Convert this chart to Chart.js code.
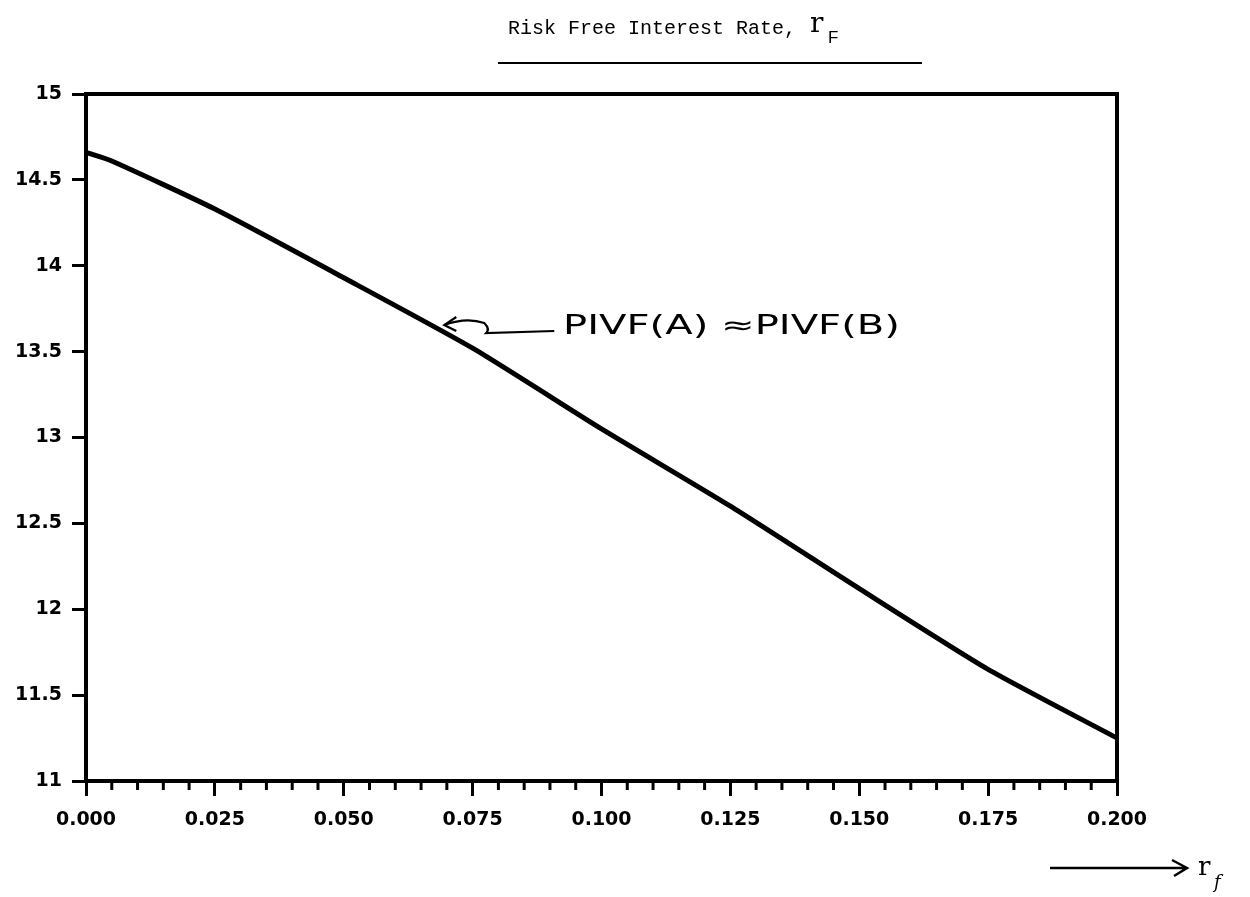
<!DOCTYPE html>
<html>
<head>
<meta charset="utf-8">
<script src="https://cdn.jsdelivr.net/npm/chart.js@4"></script>
<style>
  html, body { margin: 0; padding: 0; background: #fff; }
  #grafico { display: block; }
</style>
</head>
<body>
<canvas id="grafico" width="1250" height="897"></canvas>
<script>
// valores
const taxas = [0, 0.005, 0.025, 0.05, 0.075, 0.1, 0.125, 0.15, 0.175, 0.2];
const valores = [14.66, 14.61, 14.33, 13.93, 13.52, 13.05, 12.6, 12.12, 11.65, 11.25];
const rotulosX = ['0.000', '0.025', '0.050', '0.075', '0.100', '0.125', '0.150', '0.175', '0.200'];
const rotulosY = ['11', '11.5', '12', '12.5', '13', '13.5', '14', '14.5', '15'];
const titulo = 'Risk Free Interest Rate, ';
const anotacao = 'PIVF(A) \u2248PIVF(B)';

const ehMaior = v => Math.abs(v / 0.025 - Math.round(v / 0.025)) < 1e-6;

// moldura, ticks menores, titulo e anotacoes
const extras = {
    id: 'extras',
    afterDraw(chart) {
        const ctx = chart.ctx;
        const area = chart.chartArea;
        const sx = chart.scales.x;
        const sy = chart.scales.y;
        ctx.save();
        ctx.strokeStyle = '#000';
        ctx.fillStyle = '#000';

        ctx.lineWidth = 4;
        ctx.strokeRect(area.left, area.top, area.right - area.left, area.bottom - area.top);

        // ticks menores
        ctx.lineWidth = 3;
        for (const t of sx.ticks) {
            if (ehMaior(t.value)) continue;
            const px = sx.getPixelForValue(t.value);
            ctx.beginPath();
            ctx.moveTo(px, area.bottom);
            ctx.lineTo(px, area.bottom + 9);
            ctx.stroke();
        }

        // titulo
        ctx.font = '20px "Liberation Mono"';
        ctx.textBaseline = 'alphabetic';
        ctx.textAlign = 'left';
        ctx.fillText(titulo, 508, 34);
        const wt = ctx.measureText(titulo).width;
        ctx.font = '28px "DejaVu Serif"';
        ctx.fillText('r', 508 + wt + 2, 32);
        ctx.font = '17px "Liberation Sans"';
        ctx.fillText('F', 508 + wt + 20, 43);
        ctx.lineWidth = 2;
        ctx.beginPath();
        ctx.moveTo(498, 63);
        ctx.lineTo(922, 63);
        ctx.stroke();

        // anotacao da curva
        const ax = sx.getPixelForValue(0.0695);
        const ay = sy.getPixelForValue(13.655);
        ctx.lineWidth = 2.2;
        ctx.beginPath();
        ctx.moveTo(ax, ay);
        ctx.quadraticCurveTo(ax + 22, ay - 8, ax + 40, ay - 2);
        ctx.quadraticCurveTo(ax + 46, ay + 4, ax + 42, ay + 8);
        ctx.lineTo(ax + 110, ay + 6);
        ctx.stroke();
        ctx.beginPath();
        ctx.moveTo(ax + 12, ay - 8);
        ctx.lineTo(ax, ay);
        ctx.lineTo(ax + 12, ay + 6);
        ctx.stroke();
        ctx.font = '26px "DejaVu Sans"';
        ctx.textBaseline = 'middle';
        const wa = ctx.measureText(anotacao).width;
        ctx.save();
        ctx.translate(563, ay + 2);
        ctx.scale(337 / wa, 1);
        ctx.fillText(anotacao, 0, 0);
        ctx.restore();

        // seta do eixo x
        ctx.lineWidth = 2.5;
        ctx.beginPath();
        ctx.moveTo(1050, 868);
        ctx.lineTo(1187, 868);
        ctx.moveTo(1172, 860);
        ctx.lineTo(1187, 868);
        ctx.lineTo(1174, 876);
        ctx.stroke();
        ctx.textBaseline = 'alphabetic';
        ctx.font = '26px "DejaVu Serif"';
        ctx.fillText('r', 1198, 875);
        ctx.font = 'italic 18px "DejaVu Serif"';
        ctx.fillText('f', 1214, 888);
        ctx.restore();
    }
};

new Chart(document.getElementById('grafico'), {
    type: 'line',
    data: {
        datasets: [{
            data: taxas.map((t, i) => ({ x: t, y: valores[i] })),
            borderColor: '#000',
            borderWidth: 5,
            pointRadius: 0,
            tension: 0.2,
            fill: false
        }]
    },
    options: {
        responsive: false,
        devicePixelRatio: 1,
        animation: false,
        layout: { padding: { left: 0, right: 133, top: 94, bottom: 0 } },
        plugins: { legend: { display: false }, tooltip: { enabled: false } },
        scales: {
            x: {
                type: 'linear',
                min: 0,
                max: 0.2,
                afterFit: s => { s.height = 116; },
                border: { display: true, color: '#000', width: 4 },
                grid: {
                    drawOnChartArea: false,
                    tickLength: 15,
                    tickWidth: 3,
                    tickColor: c => (c.tick && ehMaior(c.tick.value)) ? '#000' : 'rgba(0,0,0,0)'
                },
                ticks: {
                    stepSize: 0.005,
                    autoSkip: false,
                    maxRotation: 0,
                    padding: 13,
                    color: '#000',
                    font: { family: 'DejaVu Sans', weight: 'bold', size: 19 },
                    callback: v => ehMaior(v) ? rotulosX[Math.round(v / 0.025)] : ''
                }
            },
            y: {
                min: 11,
                max: 15,
                afterFit: s => { s.width = 86; },
                border: { display: true, color: '#000', width: 4 },
                grid: {
                    drawOnChartArea: false,
                    tickLength: 14,
                    tickWidth: 3,
                    tickColor: '#000'
                },
                ticks: {
                    stepSize: 0.5,
                    padding: 10,
                    color: '#000',
                    font: { family: 'DejaVu Sans', weight: 'bold', size: 19 },
                    callback: v => rotulosY[Math.round((v - 11) / 0.5)]
                }
            }
        }
    },
    plugins: [extras]
});
</script>
</body>
</html>
